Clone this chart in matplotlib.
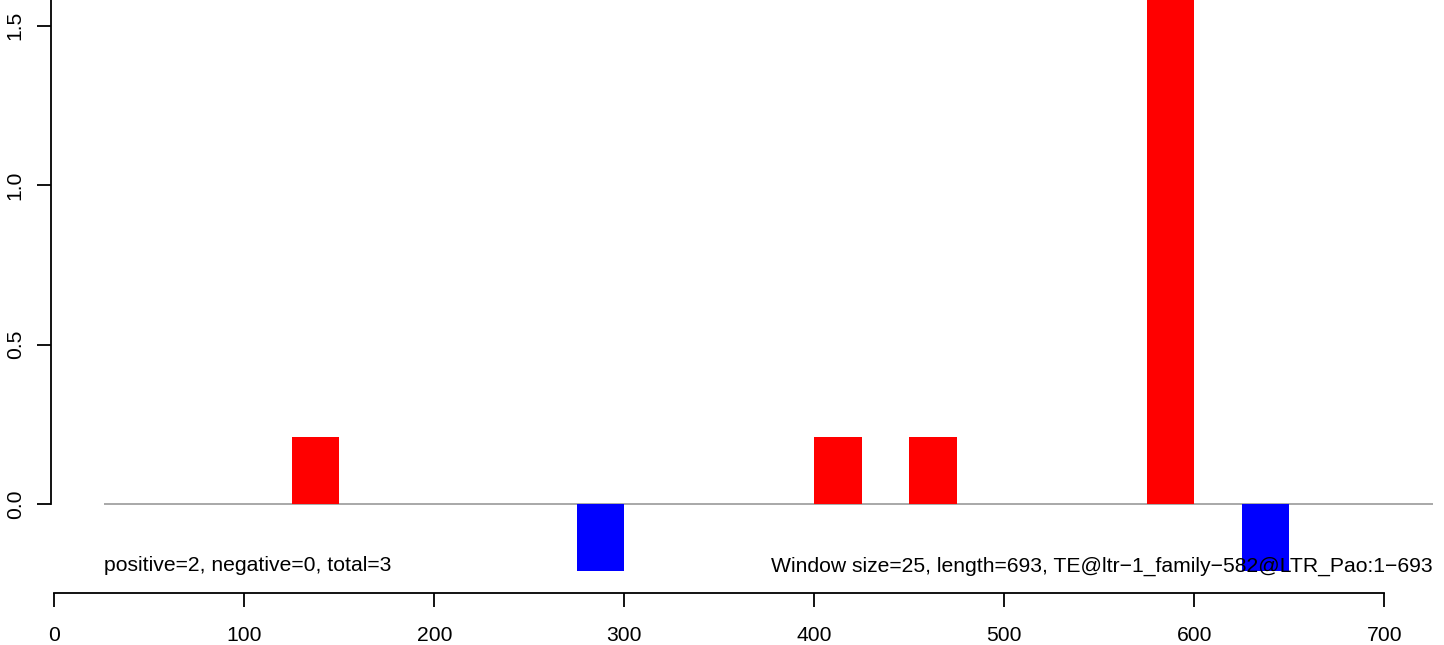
import matplotlib
matplotlib.use("Agg")
import matplotlib.pyplot as plt

plt.rcParams['font.family'] = ['Liberation Sans', 'DejaVu Sans']

# window starts (size 25) and signed scores
win_start = [125, 275, 400, 450, 575, 625]
scores = [0.21, -0.21, 0.21, 0.21, 1.67, -0.21]
win_size = 25
x_ticks = [0, 100, 200, 300, 400, 500, 600, 700]
y_ticks = [0.0, 0.5, 1.0, 1.5]
left_note = "positive=2, negative=0, total=3"
right_note = "Window size=25, length=693, TE@ltr\u22121_family\u2212582@LTR_Pao:1\u2212693"

fig = plt.figure(figsize=(14.44, 6.45), dpi=100)
ax = fig.add_axes([0, 0, 1, 1])
ax.set_xlim(-28.6, 731.4)
ax.set_ylim(-0.442, 1.580)

colors = ['red' if s > 0 else 'blue' for s in scores]
ax.bar(win_start, scores, width=win_size, align='edge', color=colors, linewidth=0, zorder=2)
ax.hlines(0, 26, 725.6, color='#999999', linewidth=1.2, zorder=1)

fs = 15.2
ax.text(26, -0.194, left_note, ha='left', va='center', fontsize=fs)
ax.text(725.6, -0.194, right_note, ha='right', va='center', fontsize=fs, zorder=3)

for side in ['top', 'right']:
    ax.spines[side].set_visible(False)
ax.spines['left'].set_position(('data', -1.7))
ax.spines['left'].set_bounds(0, 1.6)
ax.spines['bottom'].set_position(('data', -0.28))
ax.spines['bottom'].set_bounds(0, 700)
for side in ['left', 'bottom']:
    ax.spines[side].set_linewidth(1.3)

ax.set_xticks(x_ticks)
ax.set_xticklabels([str(t) for t in x_ticks])
ax.set_yticks(y_ticks)
ax.set_yticklabels([f"{t:.1f}" for t in y_ticks], rotation=90, va='center')
ax.tick_params(axis='both', length=10, width=1.3, labelsize=fs)
ax.tick_params(axis='x', pad=13.5)
ax.tick_params(axis='y', pad=9)

fig.savefig("out.png", dpi=100)
